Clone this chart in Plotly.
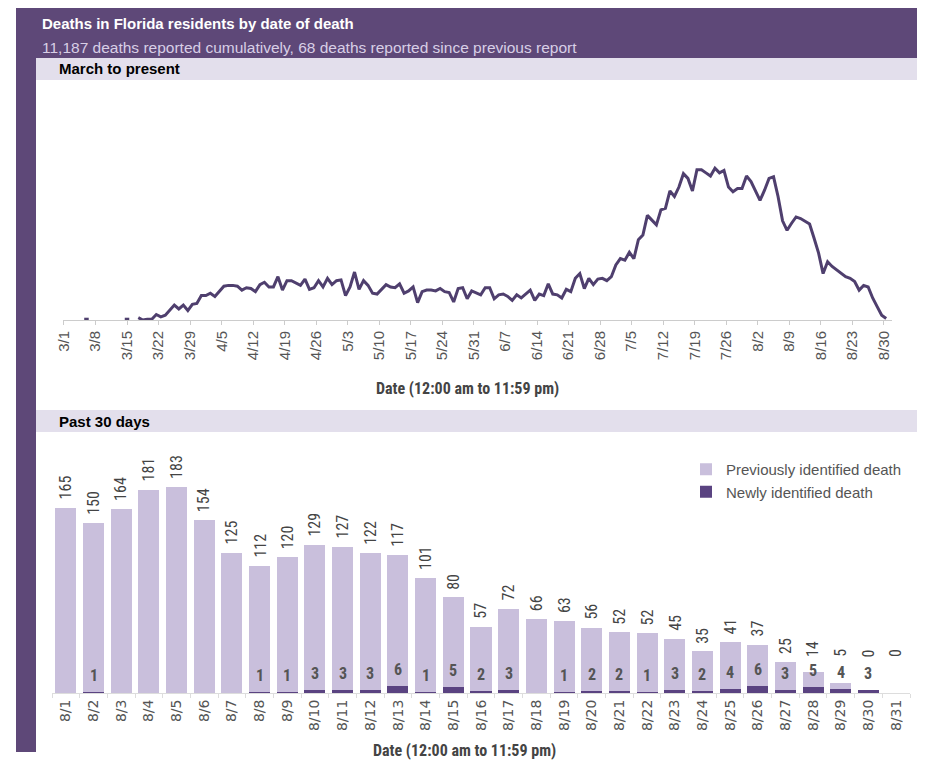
import plotly.graph_objects as go
import pandas as pd

# the page shows the figure offset/scaled from the window corner; map reference
# pixel positions to figure fractions empirically
XOFF, YOFF = 16, 8
FW, FH = 909, 752
XSPAN = 901  # visible page width covered by the figure

# ---------------- data ----------------
line_start = "2020-03-01 12:00"
line_deaths = [
    None, None, None, None, 1, 1, None, None, None, None, None, None, None, 1, 1, None,
    3, 0, 1, 1, 7, 4, 6, 12, 19, 14, 19, 12, 20, 21, 31,            # 3/17 - 3/31
    31, 34, 30, 36, 43, 44, 44, 43, 38, 41, 40, 36, 45, 48, 42,     # 4/1 - 4/15
    42, 55, 38, 50, 50, 47, 44, 52, 39, 41, 50, 42, 53, 45, 50,     # 4/16 - 4/30
    51, 31, 42, 61, 39, 50, 44, 34, 33, 39, 45, 42, 41, 46, 34, 37, # 5/1 - 5/16
    42, 22, 36, 38, 38, 37, 40, 36, 35, 23, 40, 41, 27, 37, 35,     # 5/17 - 5/31
    32, 41, 41, 27, 32, 33, 30, 25, 32, 28, 33, 38, 25, 33, 31,     # 6/1 - 6/15
    46, 33, 32, 28, 39, 36, 53, 59, 40, 53, 45, 52, 53, 50, 55,     # 6/16 - 6/30
    70, 78, 76, 86, 78, 102, 108, 133, 127, 121, 140, 142, 164, 157, 169, 186,  # 7/1 - 7/16
    180, 164, 191, 191, 187, 183, 193, 187, 190, 169, 163, 167, 167, 183, 176,  # 7/17 - 7/31
    165, 152, 165, 180, 182, 157, 126, 114, 123, 131, 129, 125, 122, 104, 85,   # 8/1 - 8/15
    59, 74, 68, 64, 59, 55, 53, 49, 38, 44, 42, 28, 17, 6, 2,                  # 8/16 - 8/30
]

day_labels = ["8/1", "8/2", "8/3", "8/4", "8/5", "8/6", "8/7", "8/8", "8/9", "8/10",
              "8/11", "8/12", "8/13", "8/14", "8/15", "8/16", "8/17", "8/18", "8/19", "8/20",
              "8/21", "8/22", "8/23", "8/24", "8/25", "8/26", "8/27", "8/28", "8/29", "8/30", "8/31"]
previously_identified = [165, 150, 164, 181, 183, 154, 125, 112, 120, 129,
                         127, 122, 117, 101, 80, 57, 72, 66, 63, 56,
                         52, 52, 45, 35, 41, 37, 25, 14, 5, 0, 0]
newly_identified = [0, 1, 0, 0, 0, 0, 0, 1, 1, 3,
                    3, 3, 6, 1, 5, 2, 3, 0, 1, 2,
                    2, 1, 3, 2, 4, 6, 3, 5, 4, 3, 0]

title_text = "Deaths in Florida residents by date of death"
subtitle_text = "11,187 deaths reported cumulatively, 68 deaths reported since previous report"
section1_text = "March to present"
section2_text = "Past 30 days"
axis_title_text = "Date (12:00 am to 11:59 pm)"

# ---------------- style ----------------
PURPLE = "#5e4878"
LAV = "#e3dfec"
LIGHT_BAR = "#c9bfdc"
DARK_BAR = "#5a4381"
LINE = "#4f3f6e"
NARROW = "Roboto Condensed, Liberation Sans Narrow, DejaVu Sans Condensed, sans-serif"
REG = "Liberation Sans, Arial, sans-serif"


def px(x):
    return min(1.0, max(0.0, (x - XOFF) / XSPAN))


def py(y):
    return min(1.0, max(0.0, 1 - (y - YOFF) / FH))


fig = go.Figure()

fig.add_trace(go.Scatter(
    x=pd.date_range(line_start, periods=len(line_deaths), freq="D"),
    y=line_deaths, mode="lines", connectgaps=False,
    line=dict(color=LINE, width=3), showlegend=False,
    xaxis="x", yaxis="y",
))

fig.add_trace(go.Bar(
    x=day_labels, y=newly_identified, name="Newly identified death",
    marker=dict(color=DARK_BAR, line=dict(width=0)), xaxis="x2", yaxis="y2",
))
fig.add_trace(go.Bar(
    x=day_labels, y=previously_identified, name="Previously identified death",
    marker=dict(color=LIGHT_BAR, line=dict(width=0)), xaxis="x2", yaxis="y2",
))

annotations = [
    dict(text=title_text, x=px(40), y=py(23), xref="paper", yref="paper",
         xanchor="left", yanchor="middle", showarrow=False,
         font=dict(family=REG, size=15, color="white", weight="bold")),
    dict(text=subtitle_text, x=px(40), y=py(47), xref="paper", yref="paper",
         xanchor="left", yanchor="middle", showarrow=False,
         font=dict(family=REG, size=15.5, color="#d8cfe6")),
    dict(text=section1_text, x=px(57), y=py(69), xref="paper", yref="paper",
         xanchor="left", yanchor="middle", showarrow=False,
         font=dict(family=REG, size=15, color="black", weight="bold")),
    dict(text=section2_text, x=px(57), y=py(421), xref="paper", yref="paper",
         xanchor="left", yanchor="middle", showarrow=False,
         font=dict(family=REG, size=15, color="black", weight="bold")),
    dict(text=axis_title_text, x=px(467), y=py(388), xref="paper", yref="paper",
         xanchor="center", yanchor="middle", showarrow=False,
         font=dict(family=NARROW, size=16, color="#444444", weight="bold")),
    dict(text=axis_title_text, x=px(464), y=py(750), xref="paper", yref="paper",
         xanchor="center", yanchor="middle", showarrow=False,
         font=dict(family=NARROW, size=16, color="#444444", weight="bold")),
]

LABEL_FLOOR = 25
for lab, p, n in zip(day_labels, previously_identified, newly_identified):
    annotations.append(dict(
        text=str(p), x=lab, y=max(p + n, LABEL_FLOOR), xref="x2", yref="y2",
        textangle=-90, xanchor="center", yanchor="bottom", yshift=6,
        showarrow=False, font=dict(family=NARROW, size=16, color="#444444")))
    if n > 0:
        annotations.append(dict(
            text=str(n), x=lab, y=n, xref="x2", yref="y2",
            xanchor="center", yanchor="bottom", yshift=5, showarrow=False,
            font=dict(family=NARROW, size=16, color="#555555", weight="bold")))

shapes = [
    dict(type="rect", xref="paper", yref="paper", x0=px(6), x1=1, y0=py(58), y1=py(8),
         fillcolor=PURPLE, line=dict(width=0), layer="below"),
    dict(type="rect", xref="paper", yref="paper", x0=px(6), x1=px(36), y0=py(752), y1=py(8),
         fillcolor=PURPLE, line=dict(width=0), layer="below"),
    dict(type="rect", xref="paper", yref="paper", x0=px(36), x1=1, y0=py(80), y1=py(58),
         fillcolor=LAV, line=dict(width=0), layer="below"),
    dict(type="rect", xref="paper", yref="paper", x0=px(36), x1=1, y0=py(432), y1=py(410),
         fillcolor=LAV, line=dict(width=0), layer="below"),
]

fig.update_layout(
    width=FW, height=FH, margin=dict(l=0, r=0, t=0, b=0),
    paper_bgcolor="white", plot_bgcolor="rgba(0,0,0,0)",
    barmode="stack", bargap=0.24,
    showlegend=True,
    legend=dict(x=px(686), y=py(453), xanchor="left", yanchor="top",
                traceorder="reversed", bgcolor="rgba(0,0,0,0)",
                font=dict(family=REG, size=15, color="#555555"),
                tracegroupgap=0, itemclick=False),
    xaxis=dict(
        domain=[px(63), px(892)], anchor="y", type="date",
        range=["2020-02-29 19:00", "2020-08-31 19:00"],
        tick0="2020-03-01", dtick=7 * 86400000, tickformat="%-m/%-d",
        tickangle=-90, ticks="outside", ticklen=4, tickcolor="#cccccc",
        showline=True, linecolor="#cccccc", linewidth=1, showgrid=False, zeroline=False,
        tickfont=dict(family=REG, size=15, color="#555555"),
    ),
    yaxis=dict(
        domain=[py(320), py(95)], anchor="x", range=[0, 286],
        showticklabels=False, showgrid=False, zeroline=False, showline=False, ticks="",
    ),
    xaxis2=dict(
        domain=[px(52), px(910)], anchor="y2", type="category", range=[-0.5, 30.5],
        tickangle=-90, ticks="outside", ticklen=4, tickcolor="#dddddd", tickson="boundaries",
        showline=True, linecolor="#dddddd", linewidth=1, showgrid=False, zeroline=False,
        tickfont=dict(family="DejaVu Sans, sans-serif", size=14, color="#555555"),
    ),
    yaxis2=dict(
        domain=[py(693), py(457)], anchor="x2", range=[0, 210],
        showticklabels=False, showgrid=False, zeroline=False, showline=False, ticks="",
    ),
    annotations=annotations,
    shapes=shapes,
)

fig.write_html("out.html")
